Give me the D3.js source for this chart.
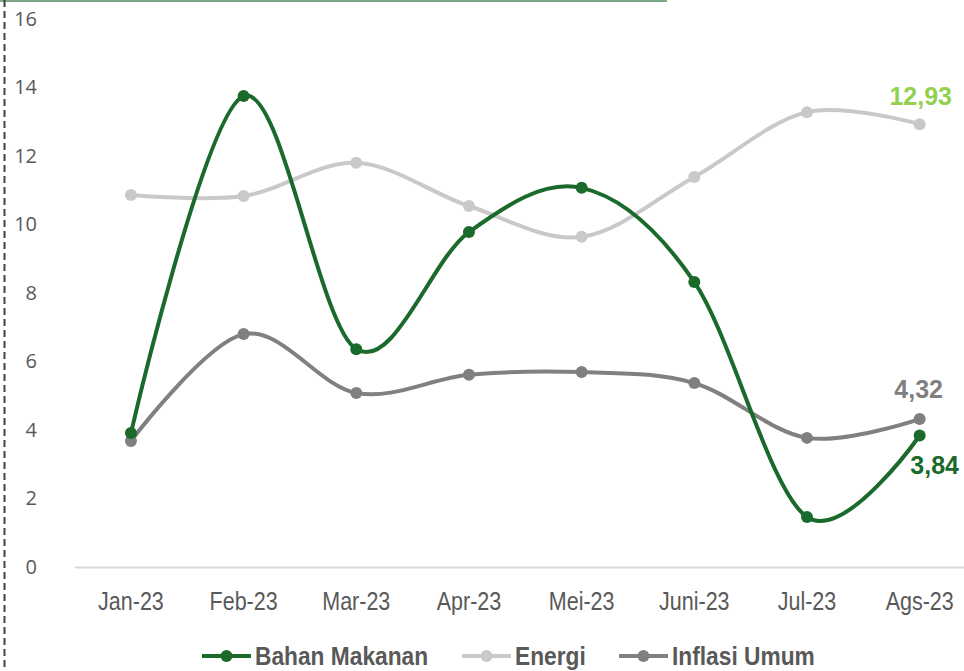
<!DOCTYPE html>
<html>
<head>
<meta charset="utf-8">
<script src="https://cdn.jsdelivr.net/npm/d3@7/dist/d3.min.js"></script>
<style>
  html, body { margin: 0; padding: 0; background: #fff; }
  svg { display: block; }
</style>
</head>
<body>
<svg id="chart" width="964" height="671"></svg>
<script>
const categories = ["Jan-23", "Feb-23", "Mar-23", "Apr-23", "Mei-23", "Juni-23", "Jul-23", "Ags-23"];
const bahanMakanan = [3.91, 13.75, 6.36, 9.78, 11.07, 8.32, 1.46, 3.84];
const energi = [10.86, 10.83, 11.80, 10.54, 9.64, 11.39, 13.28, 12.93];
const inflasiUmum = [3.68, 6.80, 5.08, 5.61, 5.69, 5.37, 3.77, 4.32];
const yTicks = [0, 2, 4, 6, 8, 10, 12, 14, 16];
const seriesNames = ["Bahan Makanan", "Energi", "Inflasi Umum"];
const lastLabels = ["3,84", "12,93", "4,32"];

const series = [
  { name: seriesNames[0], values: bahanMakanan, color: "#1a6a2b", labelColor: "#1a6a2b", label: lastLabels[0], dx: 15, dy: 30 },
  { name: seriesNames[1], values: energi, color: "#c9c9c9", labelColor: "#92d050", label: lastLabels[1], dx: 1, dy: -28 },
  { name: seriesNames[2], values: inflasiUmum, color: "#808080", labelColor: "#808080", label: lastLabels[2], dx: -1, dy: -30 }
];

const svg = d3.select("#chart");
const W = 964, H = 671;
const narrowFont = "'Liberation Sans Narrow', 'Arial Narrow', 'Liberation Sans', Arial, sans-serif";

// decorative borders
svg.append("line").attr("x1", 0).attr("x2", 667).attr("y1", 1).attr("y2", 1)
  .attr("stroke", "#7aa884").attr("stroke-width", 2);
svg.append("line").attr("x1", 4.5).attr("x2", 4.5).attr("y1", 0).attr("y2", H)
  .attr("stroke", "#404040").attr("stroke-width", 2).attr("stroke-dasharray", "7,4");

const x = d3.scaleBand().domain(categories).range([74.6, 976]);
const y = d3.scaleLinear().domain([0, 16]).range([567, 19]);

// y axis labels
const yAxis = d3.axisLeft(y).tickValues(yTicks).tickSize(0).tickPadding(0);
const gy = svg.append("g").attr("transform", "translate(37,0)").call(yAxis);
gy.select(".domain").remove();
gy.selectAll("text").attr("fill", "#595959").style("font-family", "'Open Sans', 'DejaVu Sans', sans-serif").style("font-size", "20px");

// x axis
const xAxis = d3.axisBottom(x).tickSize(0).tickPadding(0);
const gx = svg.append("g").attr("transform", "translate(0,567)").call(xAxis);
gx.select(".domain").attr("stroke", "#d9d9d9").attr("stroke-width", 2);
gx.selectAll("text").attr("fill", "#595959")
  .attr("y", 0).attr("dy", null)
  .attr("transform", "translate(0,43) scale(0.86,1)")
  .style("font-family", narrowFont).style("font-size", "25px");

const cx = c => x(c) + x.bandwidth() / 2;
const line = d3.line()
  .x((d, i) => cx(categories[i]))
  .y(d => y(d))
  .curve(d3.curveCardinal.tension(0));

// draw in order: Energi, Inflasi, Bahan on top
const order = [1, 2, 0];
order.forEach(k => {
  const s = series[k];
  const g = svg.append("g");
  g.append("path").datum(s.values).attr("d", line)
    .attr("fill", "none").attr("stroke", s.color).attr("stroke-width", 4)
    .attr("stroke-linecap", "round");
  g.selectAll("circle").data(s.values).join("circle")
    .attr("cx", (d, i) => cx(categories[i])).attr("cy", d => y(d)).attr("r", 6)
    .attr("fill", s.color);
  const lastIdx = s.values.length - 1;
  g.append("text")
    .attr("x", cx(categories[lastIdx]) + s.dx)
    .attr("y", y(s.values[lastIdx]) + s.dy)
    .attr("text-anchor", "middle").attr("dominant-baseline", "central")
    .attr("fill", s.labelColor)
    .style("font-family", "'Liberation Sans', Arial, sans-serif")
    .style("font-weight", "bold").style("font-size", "25px")
    .text(s.label);
});

// legend
const legendItems = [
  { s: series[0], x0: 202 },
  { s: series[1], x0: 462 },
  { s: series[2], x0: 619 }
];
const ly = 656;
legendItems.forEach(it => {
  const g = svg.append("g");
  g.append("line").attr("x1", it.x0).attr("x2", it.x0 + 49).attr("y1", ly).attr("y2", ly)
    .attr("stroke", it.s.color).attr("stroke-width", 4);
  g.append("circle").attr("cx", it.x0 + 24.5).attr("cy", ly).attr("r", 6).attr("fill", it.s.color);
  g.append("text")
    .attr("transform", `translate(${it.x0 + 53},${ly + 9}) scale(0.91,1)`)
    .attr("fill", "#595959")
    .style("font-family", narrowFont)
    .style("font-weight", "bold").style("font-size", "25px")
    .text(it.s.name);
});
</script>
</body>
</html>
